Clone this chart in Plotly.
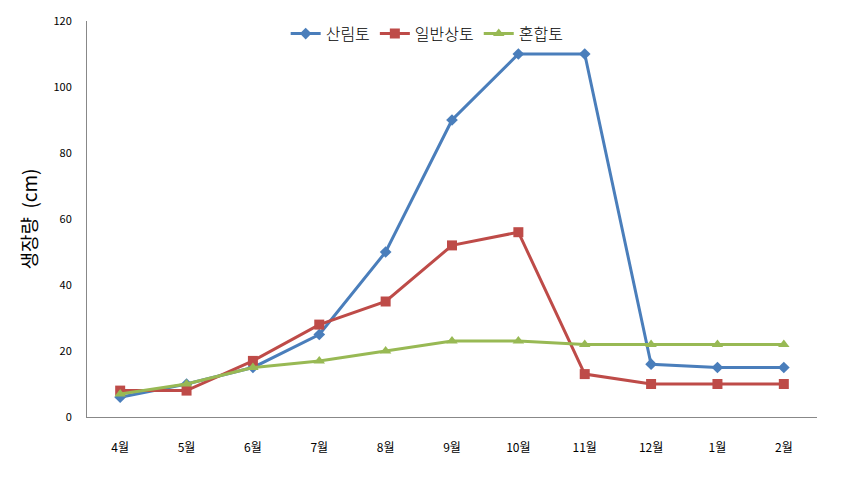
import plotly.graph_objects as go

months = ["4월", "5월", "6월", "7월", "8월", "9월", "10월", "11월", "12월", "1월", "2월"]
forest_soil = [6, 10, 15, 25, 50, 90, 110, 110, 16, 15, 15]
general_soil = [8, 8, 17, 28, 35, 52, 56, 13, 10, 10, 10]
mixed_soil = [7, 10, 15, 17, 20, 23, 23, 22, 22, 22, 22]
y_ticks = [0, 20, 40, 60, 80, 100, 120]

font_family = "Noto Sans CJK KR"

fig = go.Figure()
fig.add_trace(go.Scatter(x=months, y=forest_soil, name="산림토", mode="lines+markers",
                         line=dict(color="#4A7EBB", width=3),
                         marker=dict(symbol="diamond", size=9, color="#4A7EBB")))
fig.add_trace(go.Scatter(x=months, y=general_soil, name="일반상토", mode="lines+markers",
                         line=dict(color="#BE4B48", width=3),
                         marker=dict(symbol="square", size=10, color="#BE4B48")))
fig.add_trace(go.Scatter(x=months, y=mixed_soil, name="혼합토", mode="lines+markers",
                         line=dict(color="#98B954", width=3),
                         marker=dict(symbol="triangle-up", size=10, color="#98B954")))

fig.update_layout(
    width=866, height=477,
    margin=dict(l=87, r=49, t=16, b=60),
    paper_bgcolor="white", plot_bgcolor="white",
    font=dict(family=font_family, color="#000000"),
    showlegend=True,
    legend=dict(orientation="h", x=0.466, xanchor="center", y=0.968, yanchor="middle",
                font=dict(size=16, family=font_family, weight=300), bgcolor="rgba(0,0,0,0)",
                itemwidth=30, tracegroupgap=0),
    xaxis=dict(type="category", showgrid=False, showline=True, linecolor="#888888", linewidth=1,
               ticks="", tickfont=dict(size=12), ticklabelstandoff=20,
               range=[-0.5, 10.5]),
    yaxis=dict(range=[0, 120], tickvals=y_ticks, showgrid=False, showline=True,
               linecolor="#888888", linewidth=1, ticks="", tickfont=dict(size=11),
               ticklabelstandoff=12, zeroline=False,
               title=dict(text="생장량  (cm)", font=dict(size=19), standoff=10)),
)

fig.write_html("out.html")
